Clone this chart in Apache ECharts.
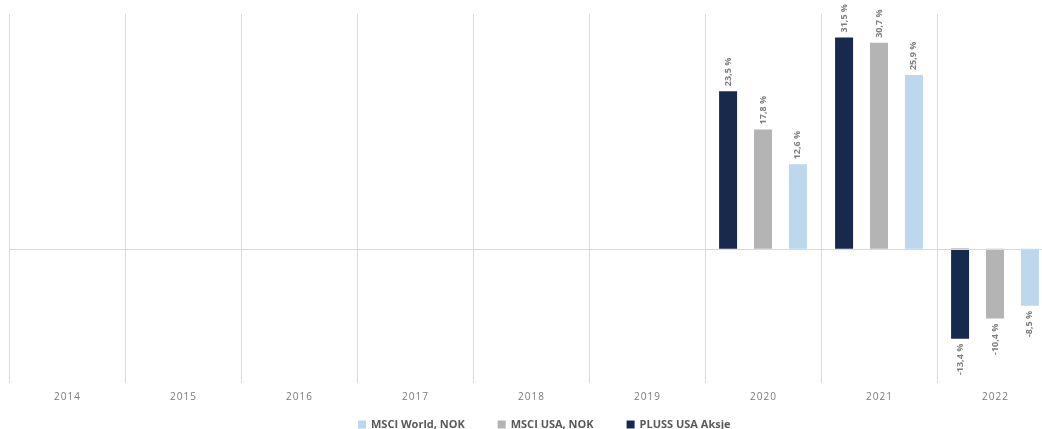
<!DOCTYPE html>
<html>
<head>
<meta charset="utf-8">
<script src="https://cdn.jsdelivr.net/npm/echarts@6/dist/echarts.min.js"></script>
<style>
html,body{margin:0;padding:0;background:#fff;}
#chart{width:1042px;height:429px;}
</style>
</head>
<body>
<div id="chart"></div>
<script>
const categories = ['2014','2015','2016','2017','2018','2019','2020','2021','2022'];
const plussUsa = [null,null,null,null,null,null,23.5,31.5,-13.4];
const msciUsa = [null,null,null,null,null,null,17.8,30.7,-10.4];
const msciWorld = [null,null,null,null,null,null,12.6,25.9,-8.5];
const seriesNames = ['PLUSS USA Aksje','MSCI USA, NOK','MSCI World, NOK'];
const legendOrder = ['MSCI World, NOK','MSCI USA, NOK','PLUSS USA Aksje'];
const colors = ['#172a4e','#b4b4b4','#bdd7ee'];

function fmt(v){ return v.toFixed(1).replace('.', ',') + ' %'; }

function mkData(arr){
  return arr.map(v => {
    if (v === null) return null;
    if (v < 0) {
      return {value: v, label: {position: 'bottom', align: 'right'}};
    }
    return {value: v};
  });
}

const chart = echarts.init(document.getElementById('chart'));
const seriesData = [plussUsa, msciUsa, msciWorld];
const series = seriesData.map((arr, i) => ({
  name: seriesNames[i],
  type: 'bar',
  data: mkData(arr),
  barWidth: 18,
  barGap: '94%',
  itemStyle: {color: colors[i]},
  label: {
    show: true,
    position: 'top',
    rotate: 90,
    align: 'left',
    verticalAlign: 'middle',
    distance: 5,
    color: '#7f7f7f',
    fontFamily: 'Open Sans',
    fontWeight: 'bold',
    fontSize: 9,
    formatter: p => fmt(p.value)
  },
  markLine: i === 0 ? {
    silent: true,
    symbol: 'none',
    label: {show: false},
    lineStyle: {color: '#d9d9d9', type: 'solid', width: 1},
    data: [{yAxis: 0}]
  } : undefined
}));

chart.setOption({
  animation: false,
  color: colors,
  grid: {left: 9, width: 1044, top: 14, bottom: 46, containLabel: false, outerBoundsMode: 'none'},
  legend: {
    data: legendOrder,
    left: 358,
    top: 419,
    padding: 0,
    icon: 'rect',
    itemWidth: 8,
    itemHeight: 8,
    itemGap: 33,
    textStyle: {color: '#595959', fontFamily: 'Open Sans', fontWeight: 'bold', fontSize: 11}
  },
  xAxis: {
    type: 'category',
    data: categories,
    axisLine: {show: false},
    axisTick: {show: false},
    splitLine: {show: true, lineStyle: {color: '#d9d9d9', width: 1}},
    axisLabel: {
      color: '#7a7a7a',
      fontFamily: 'Open Sans',
      fontSize: 10,
      margin: 9,
      formatter: v => v.split('').join('\u200A')
    }
  },
  yAxis: {
    type: 'value',
    min: -20,
    max: 35,
    interval: 5,
    show: true,
    axisLine: {show: false},
    axisTick: {show: false},
    axisLabel: {show: false},
    splitLine: {show: false}
  },
  series: series
});
</script>
</body>
</html>
